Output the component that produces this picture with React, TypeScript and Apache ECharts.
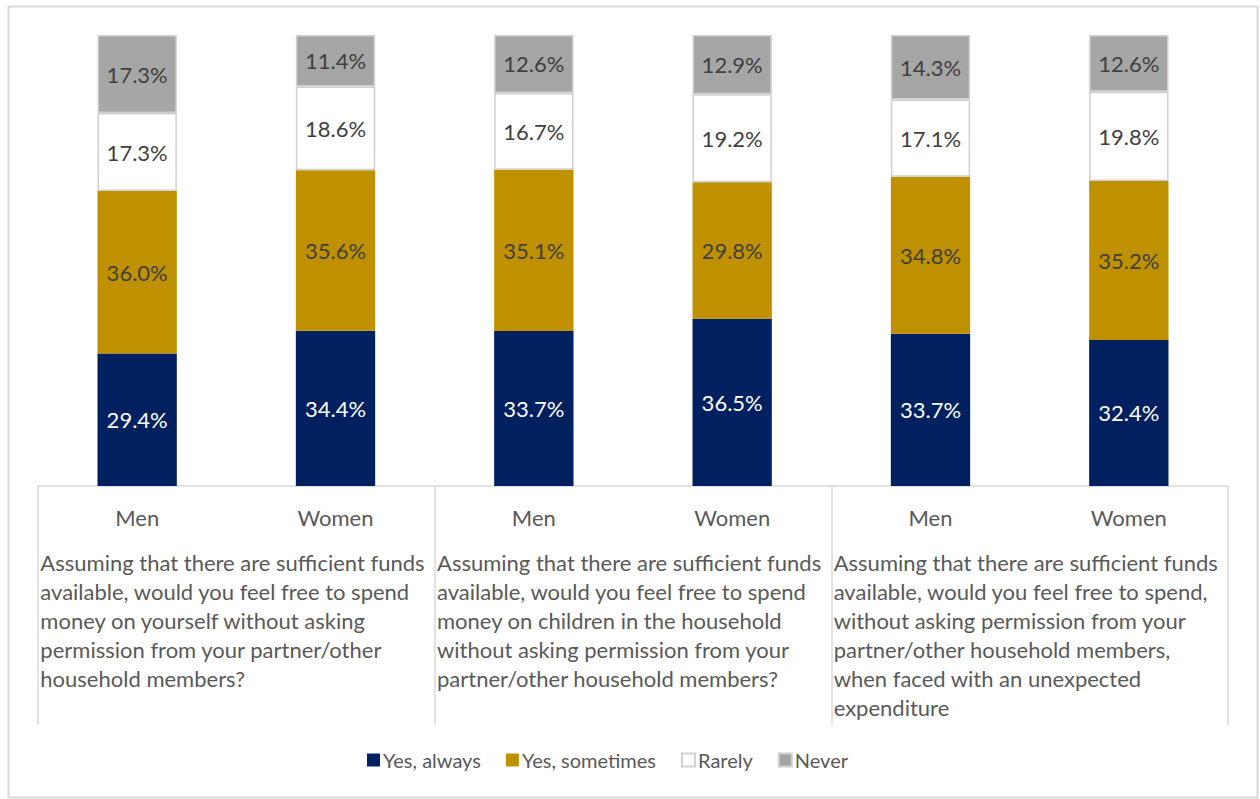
import React, { useEffect, useRef } from "react";
import * as echarts from "echarts";

const subCategories = ["Men", "Women", "Men", "Women", "Men", "Women"];
const questions = [
  "Assuming that there are sufficient funds\navailable, would you feel free to spend\nmoney on yourself without asking\npermission from your partner/other\nhousehold members?",
  "Assuming that there are sufficient funds\navailable, would you feel free to spend\nmoney on children in the household\nwithout asking permission from your\npartner/other household members?",
  "Assuming that there are sufficient funds\navailable, would you feel free to spend,\nwithout asking permission from your\npartner/other household members,\nwhen faced with an unexpected\nexpenditure",
];
const seriesNames = ["Yes, always", "Yes, sometimes", "Rarely", "Never"];
const yesAlways = [29.4, 34.4, 33.7, 36.5, 33.7, 32.4];
const yesSometimes = [36.0, 35.6, 35.1, 29.8, 34.8, 35.2];
const rarely = [17.3, 18.6, 16.7, 19.2, 17.1, 19.8];
const never = [17.3, 11.4, 12.6, 12.9, 14.3, 12.6];

const FONT = "Lato";
const TEXT = "#595959";
const LINE = "#d9d9d9";

export default function App() {
  const ref = useRef<HTMLDivElement>(null);
  useEffect(() => {
    document.body.style.margin = "0";
    if (!ref.current) return;
    const chart = echarts.init(ref.current, undefined, { renderer: "svg" });
    const all = [yesAlways, yesSometimes, rarely, never];
    const totals = subCategories.map((_, i) => all.reduce((s, a) => s + a[i], 0));
    const styles = [
      { color: "#002060", label: "#ffffff", border: null },
      { color: "#bf9000", label: "#404040", border: null },
      { color: "#ffffff", label: "#404040", border: "#d0d0d0" },
      { color: "#a6a6a6", label: "#404040", border: "#d0d0d0" },
    ];
    const series = all.map((vals, k) => ({
      name: seriesNames[k],
      type: "bar",
      stack: "total",
      barWidth: "40%",
      xAxisIndex: 0,
      data: vals.map((v, i) => ({ value: (v / totals[i]) * 100, raw: v })),
      itemStyle: {
        color: styles[k].color,
        borderColor: styles[k].border || styles[k].color,
        borderWidth: styles[k].border ? 1.5 : 0,
      },
      label: {
        show: true,
        position: "inside",
        formatter: (p: any) => p.data.raw.toFixed(1) + "%",
        color: styles[k].label,
        fontSize: 22,
        fontFamily: FONT,
      },
    }));
    chart.setOption({
      animation: false,
      backgroundColor: "#ffffff",
      grid: { left: 38, right: 32, top: 35, bottom: 313, containLabel: false },
      legend: {
        data: seriesNames,
        left: 362,
        top: 745,
        icon: "rect",
        itemWidth: 13,
        itemHeight: 13,
        itemGap: 25,
        textStyle: { color: TEXT, fontSize: 20, fontFamily: FONT, padding: [0, 0, 0, -2] },
      },
      xAxis: [
        {
          type: "category",
          data: subCategories,
          position: "bottom",
          axisLine: { show: true, lineStyle: { color: LINE, width: 1.5 } },
          axisTick: { show: false },
          axisLabel: {
            interval: 0,
            margin: 20,
            color: TEXT,
            fontSize: 22,
            fontFamily: FONT,
          },
        },
        {
          type: "category",
          data: questions,
          position: "bottom",
          axisLine: { show: false },
          axisTick: { show: true, length: 239, lineStyle: { color: LINE, width: 1.5 } },
          axisLabel: {
            interval: 0,
            margin: 62,
            width: 392,
            align: "center",
            verticalAlign: "top",
            formatter: (v: string) => v.split("\n").map((l) => `{g|${l}}`).join("\n"),
            rich: {
              g: { align: "left", fontSize: 22, lineHeight: 29, color: TEXT, fontFamily: FONT },
            },
          },
        },
      ],
      yAxis: { type: "value", min: 0, max: 100, show: false },
      series,
      graphic: [
        {
          type: "rect",
          shape: { x: 8.5, y: 6.5, width: 1249, height: 791 },
          style: { fill: "none", stroke: LINE, lineWidth: 2 },
          silent: true,
        },
      ],
    });
    return () => chart.dispose();
  }, []);
  return <div ref={ref} style={{ width: 1260, height: 799 }} />;
}
